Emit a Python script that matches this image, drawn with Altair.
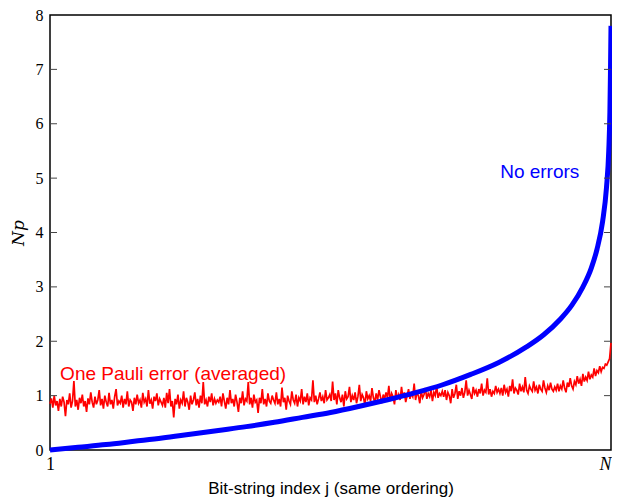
import altair as alt
import pandas as pd

# Blue curve: "No errors" (x as fraction of index range 1..N)
blue_x = [0.0, 0.05, 0.1, 0.15, 0.2, 0.25, 0.3, 0.35, 0.4, 0.45, 0.5, 0.55, 0.6, 0.65,
          0.7, 0.75, 0.8, 0.85, 0.88, 0.91, 0.93, 0.95, 0.965, 0.975, 0.985, 0.992,
          0.996, 0.998, 0.999, 1.0]
blue_y = [0.0, 0.05, 0.10, 0.16, 0.22, 0.29, 0.36, 0.43, 0.51, 0.60, 0.69, 0.80, 0.92, 1.05,
          1.20, 1.39, 1.61, 1.90, 2.12, 2.41, 2.66, 3.00, 3.35, 3.69, 4.20, 4.83,
          5.50, 6.20, 6.90, 7.80]

# Red noisy curve: "One Pauli error (averaged)", read left to right
red_y = [
    0.85,0.95,0.78,1.00,0.82,0.90,0.72,0.94,0.80,0.98,0.88,0.62,0.92,0.84,1.04,0.78,0.90,1.27,0.80,0.92,
    0.74,0.96,0.86,1.02,0.80,0.90,0.70,0.95,0.84,1.06,0.88,0.78,0.98,0.84,0.92,1.10,0.82,0.94,0.76,1.00,
    0.88,0.80,1.05,0.84,0.92,0.76,0.98,1.12,0.82,0.90,0.86,1.00,0.78,0.94,0.84,1.08,0.80,0.92,0.88,0.72,
    0.96,0.84,1.02,0.86,0.92,0.78,1.05,0.88,0.94,0.80,1.10,0.85,0.92,0.76,0.98,0.90,1.04,0.82,0.94,0.88,
    0.82,0.96,0.78,1.05,0.86,1.12,0.80,0.90,0.60,0.94,0.84,1.02,0.76,0.92,0.86,1.08,0.80,0.96,0.88,0.74,
    1.00,0.84,0.92,1.06,0.82,0.94,0.78,1.00,0.86,1.25,0.84,0.92,0.80,0.98,0.88,1.04,0.82,0.94,0.86,0.92,
    0.88,0.98,0.80,1.04,0.90,0.76,0.96,0.84,1.10,0.86,0.94,0.80,1.02,0.88,0.70,0.96,0.86,1.08,0.82,0.94,
    0.90,1.25,0.84,0.96,0.78,1.02,0.88,0.92,0.68,0.96,0.86,1.12,0.84,0.94,0.80,1.04,0.90,0.86,1.00,0.92,
    0.86,1.06,0.84,0.94,0.80,1.15,0.88,0.96,0.74,1.00,0.90,0.84,1.08,0.92,0.86,1.02,0.80,0.96,0.90,1.12,
    0.84,0.98,0.88,1.04,0.82,0.96,0.92,1.28,0.88,1.00,0.84,0.94,1.06,0.90,0.98,0.86,1.10,0.92,0.96,1.02,
    0.90,1.26,0.92,1.04,0.84,1.10,0.96,0.88,1.02,0.80,1.08,0.94,0.98,1.16,0.88,1.00,0.92,1.06,0.86,0.98,
    1.20,0.90,1.02,0.96,0.82,1.08,0.94,1.00,0.90,1.14,0.96,0.88,1.04,0.92,1.10,0.98,0.86,1.02,0.94,1.06,
    0.96,1.18,0.90,1.04,0.98,0.84,1.10,0.94,1.02,0.92,1.16,0.96,1.06,0.88,1.00,1.12,0.94,1.04,0.98,1.22,
    0.92,1.06,1.00,0.86,1.08,0.96,1.02,1.14,0.94,1.04,0.98,1.10,0.90,1.06,1.00,1.18,0.96,1.04,1.00,1.08,
    0.98,1.10,0.92,1.06,1.00,0.86,1.12,0.96,1.04,1.20,0.94,1.08,1.00,1.14,0.96,1.06,1.28,1.00,1.10,1.02,
    0.94,1.16,1.04,1.10,0.98,1.12,1.04,1.22,1.00,1.10,1.06,1.32,1.02,1.12,0.98,1.08,1.04,1.18,1.06,1.12,
    1.04,1.14,1.00,1.20,1.06,1.12,0.98,1.18,1.08,1.30,1.04,1.14,1.10,1.02,1.22,1.08,1.16,1.06,1.34,1.10,
    1.04,1.18,1.12,1.08,1.26,1.10,1.16,1.04,1.20,1.12,1.08,1.28,1.14,1.06,1.18,1.10,1.24,1.12,1.08,1.16,
    1.10,1.22,1.08,1.18,1.12,1.28,1.14,1.06,1.24,1.16,1.32,1.18,1.12,1.26,1.20,1.36,1.22,1.30,1.18,1.40,
    1.26,1.34,1.28,1.44,1.30,1.38,1.34,1.50,1.36,1.46,1.42,1.54,1.44,1.52,1.50,1.58,1.56,1.62,1.68,1.97,
]
red_x = [i / (len(red_y) - 1) for i in range(len(red_y))]

y_ticks = [1, 2, 3, 4, 5, 6, 7]

label_text = ["No errors", "One Pauli error (averaged)"]
label_x = [0.873, 0.018]
label_y = [5.11, 1.40]

blue_df = pd.DataFrame({"x": blue_x, "y": blue_y})
red_df = pd.DataFrame({"x": red_x, "y": red_y})
tick_df = pd.DataFrame({"y": y_ticks})
lab_df = pd.DataFrame({"t": label_text, "x": label_x, "y": label_y})

xscale = alt.Scale(domain=[0, 1], nice=False, zero=False)
yscale = alt.Scale(domain=[0, 8], nice=False)

xaxis = alt.Axis(values=[0, 1], labelExpr="datum.value == 0 ? '1' : 'N'",
                 title="Bit-string index j (same ordering)", grid=False, domain=False,
                 ticks=False, labelFont="Liberation Serif", labelFontSize=18,
                 labelFontStyle={"condition": {"test": "datum.value == 1", "value": "italic"}, "value": "normal"},
                 labelAlign={"condition": {"test": "datum.value == 1", "value": "right"}, "value": "center"},
                 labelPadding=5, titleFont="Liberation Sans", titleFontSize=17,
                 titleFontWeight="normal", titlePadding=7, labelColor="#000",
                 titleColor="#000", labelFlush=False)
yaxis = alt.Axis(values=list(range(0, 9)), title="Np", grid=False, domain=False,
                 ticks=False, labelFont="Liberation Serif", labelFontSize=16,
                 labelPadding=7, titleFont="DejaVu Serif", titleFontSize=17,
                 titleFontStyle="italic", titleFontWeight="normal", titlePadding=8,
                 labelColor="#000", titleColor="#000")

red = alt.Chart(red_df).mark_line(color="#ff0000", strokeWidth=1.7).encode(
    x=alt.X("x:Q", scale=xscale, axis=xaxis),
    y=alt.Y("y:Q", scale=yscale, axis=yaxis),
)
blue = alt.Chart(blue_df).mark_line(color="#0000ff", strokeWidth=5, interpolate="monotone").encode(
    x=alt.X("x:Q", scale=xscale),
    y=alt.Y("y:Q", scale=yscale),
)
lticks = alt.Chart(tick_df).mark_rule(color="#444", strokeWidth=1).encode(
    y=alt.Y("y:Q", scale=yscale), x=alt.value(0), x2=alt.value(7))
rticks = alt.Chart(tick_df).mark_rule(color="#444", strokeWidth=1).encode(
    y=alt.Y("y:Q", scale=yscale), x=alt.value(554), x2=alt.value(561))

lab1 = alt.Chart(lab_df.iloc[[0]]).mark_text(font="Liberation Sans", fontSize=19,
                                             align="center", color="#0000ff").encode(
    x=alt.X("x:Q", scale=xscale), y=alt.Y("y:Q", scale=yscale), text="t:N")
lab2 = alt.Chart(lab_df.iloc[[1]]).mark_text(font="Liberation Sans", fontSize=19,
                                             align="left", color="#ff0000").encode(
    x=alt.X("x:Q", scale=xscale), y=alt.Y("y:Q", scale=yscale), text="t:N")

chart = alt.layer(red, blue, lticks, rticks, lab1, lab2).properties(
    width=561, height=435,
    autosize=alt.AutoSizeParams(type="none"),
    padding={"left": 42, "top": 7, "right": 1, "bottom": 50},
).configure_view(stroke="#000", strokeWidth=1.5)

chart.save("out.html", embed_options={"renderer": "svg", "actions": False})
